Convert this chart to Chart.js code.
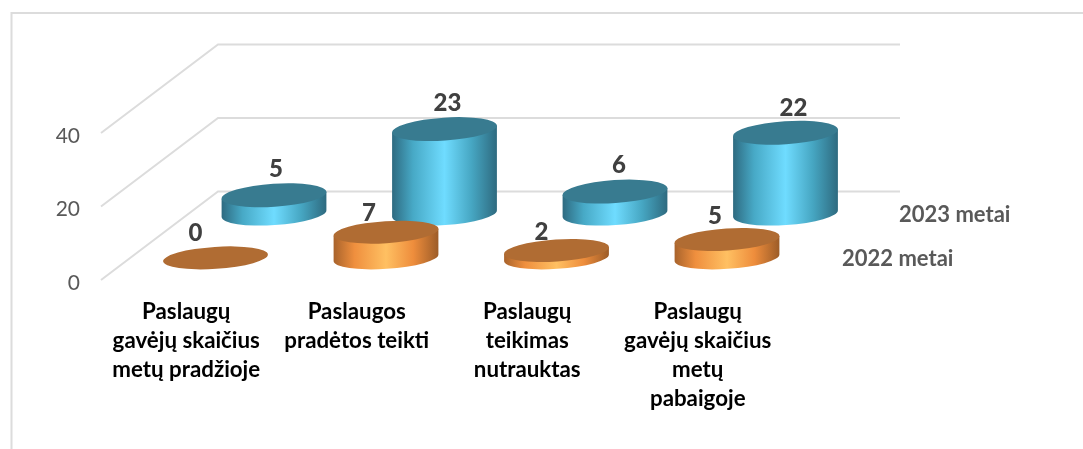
<!DOCTYPE html>
<html><head><meta charset="utf-8">
<style>html,body{margin:0;padding:0;background:#fff;overflow:hidden}canvas{display:block}</style>
<script src="https://cdn.jsdelivr.net/npm/chart.js@4"></script></head>
<body><canvas id="c" width="1083" height="449"></canvas>
<script>
const categories = [
  ['Paslaugų','gavėjų skaičius','metų pradžioje'],
  ['Paslaugos','pradėtos teikti'],
  ['Paslaugų','teikimas','nutrauktas'],
  ['Paslaugų','gavėjų skaičius','metų','pabaigoje']
];
const series2022 = [0, 7, 2, 5];
const series2023 = [5, 23, 6, 22];
const seriesNames = ['2022 metai', '2023 metai'];
const yTicks = [0, 20, 40];

const GRID = '#dcdcdc';
const DEPTH = {dx: 117, dy: -88.5};
const looks = [
  {f: .25, top: '#b06c33', ry: 11,
   stops: ['#a8632c','#ef8f3e','#ffc062','#ee8d3c','#9c5c28'],
   nudgeX: [-20,-17,-15,-12], nudgeY: [25,19,18.5,23.5], name: [842, 259]},
  {f: .75, top: '#387b90', ry: 11.5,
   stops: ['#2e6a80','#47a9c6','#6fdcff','#46a6c2','#2e6a7f'],
   nudgeX: [2,3,4,8], nudgeY: [26,26,26,25], name: [899, 215]}
];
const TILT = -3.8 * Math.PI / 180;

function cylinder(ctx, bar, look){
  const o = look.f;
  const cx = bar.x + DEPTH.dx * o, rx = bar.width / 2, ry = look.ry;
  const topY = bar.y + DEPTH.dy * o, botY = bar.base + DEPTH.dy * o;
  const c = Math.cos(TILT), s = Math.sin(TILT);
  if (botY - topY > .5){
    const g = ctx.createLinearGradient(cx - rx, 0, cx + rx, 0);
    [0,.2,.5,.76,1].forEach((p,i)=>g.addColorStop(p, look.stops[i]));
    ctx.beginPath();
    ctx.moveTo(cx - rx*c, topY - rx*s);
    ctx.lineTo(cx - rx*c, botY - rx*s);
    ctx.ellipse(cx, botY, rx, ry, TILT, Math.PI, 0, true);
    ctx.lineTo(cx + rx*c, topY + rx*s);
    ctx.closePath();
    ctx.fillStyle = g; ctx.fill();
  }
  ctx.beginPath();
  ctx.ellipse(cx, topY, rx, ry, TILT, 0, Math.PI*2);
  ctx.fillStyle = look.top; ctx.fill();
}

const scene = {
  id: 'scene',
  afterLayout(chart){
    const y = chart.scales.y, orig = y.getLabelItems;
    y.getLabelItems = function(a){
      return orig.call(y, a).map(i=>({...i, textOffset: i.textOffset + 3}));
    };
  },
  beforeDatasetsDraw(chart){
    const {ctx, chartArea: a, scales: {y}} = chart;
    ctx.save();
    ctx.strokeStyle = GRID; ctx.lineWidth = 2;
    ctx.beginPath();
    ctx.moveTo(11.5, 449); ctx.lineTo(11.5, 13); ctx.lineTo(1083, 13);
    ctx.stroke();
    y.ticks.forEach(t=>{
      const py = y.getPixelForValue(t.value);
      ctx.beginPath();
      ctx.moveTo(a.left, py);
      ctx.lineTo(a.left + DEPTH.dx, py + DEPTH.dy);
      ctx.lineTo(a.right + DEPTH.dx, py + DEPTH.dy);
      ctx.stroke();
    });
    ctx.restore();
  },
  beforeDatasetDraw(chart, args){
    const ctx = chart.ctx, look = looks[args.index];
    ctx.save();
    args.meta.data.forEach(bar=>cylinder(ctx, bar, look));
    ctx.restore();
    return false;
  },
  afterDatasetsDraw(chart){
    const ctx = chart.ctx;
    ctx.save();
    ctx.textBaseline = 'middle';
    chart.data.datasets.forEach((ds,i)=>{
      const look = looks[i];
      chart.getDatasetMeta(i).data.forEach((bar,j)=>{
        ctx.font = '900 24px Lato';
        ctx.fillStyle = '#404040';
        ctx.textAlign = 'center';
        ctx.fillText(String(ds.data[j]),
          bar.x + DEPTH.dx*look.f + look.nudgeX[j],
          bar.y + DEPTH.dy*look.f - look.nudgeY[j]);
      });
      ctx.font = 'bold 22px Lato';
      ctx.fillStyle = '#595959';
      ctx.textAlign = 'left';
      ctx.fillText(ds.label, look.name[0], look.name[1]);
    });
    ctx.restore();
  }
};

new Chart(document.getElementById('c'), {
  type: 'bar',
  data: {
    labels: categories,
    datasets: [
      {label: seriesNames[0], data: series2022, backgroundColor: '#b06c33', grouped: false, barPercentage: .616, categoryPercentage: 1},
      {label: seriesNames[1], data: series2023, backgroundColor: '#387b90', grouped: false, barPercentage: .616, categoryPercentage: 1}
    ]
  },
  options: {
    responsive: false, animation: false,
    layout: {padding: {top: 133, right: 300, left: 0, bottom: 0}},
    plugins: {legend: {display: false}, tooltip: {enabled: false}},
    scales: {
      x: {
        grid: {display: false}, border: {display: false},
        afterFit(s){ s.height = 169; },
        ticks: {autoSkip: false, maxRotation: 0, minRotation: 0, padding: 9, color: '#000',
          font: {family: 'Lato', weight: 'bold', size: 22.3, lineHeight: 1.3}}
      },
      y: {
        min: 0, max: 40,
        afterFit(s){ s.width = 101; },
        grid: {display: false, drawTicks: false}, border: {display: false},
        afterBuildTicks(s){ s.ticks = yTicks.map(v=>({value: v})); },
        ticks: {padding: 21, color: '#595959', font: {family: 'Lato', size: 21}}
      }
    }
  },
  plugins: [scene]
});
</script></body></html>
